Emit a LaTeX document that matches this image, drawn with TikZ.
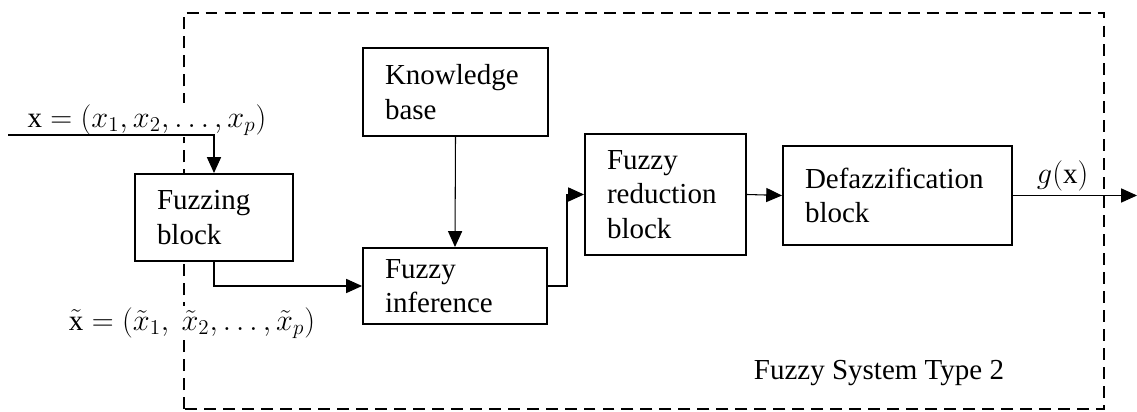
\documentclass[tikz,border=0pt]{standalone}
\usepackage{amsmath}
\usepackage{fontspec}
\setmainfont{Liberation Serif}
\usetikzlibrary{arrows.meta}

\tikzset{
  block/.style={draw, line width=1.1pt, fill=white, align=left, inner xsep=0.44cm, inner ysep=0pt, font=\rmfamily\fontsize{16.5}{19.6}\selectfont},
  lbl/.style={fill=white, inner sep=1pt},
  conn/.style={line width=0.6pt, -{Triangle[length=9pt,width=8pt]}},
  frame/.style={line width=1.3pt, dash pattern=on 6.8pt off 4pt}
}

\begin{document}
\begin{tikzpicture}[font=\rmfamily\fontsize{16.5}{19.6}\selectfont]
\useasboundingbox (0,0) rectangle (22.74,8.24);

% system boundary
\draw [frame] (3.68,0.06) rectangle (22.08,7.98);

\node (F1) at (4.28,3.89) [block, text width=2.28cm, minimum height=1.74cm] {Fuzzing\\block};
\node (K1) at (9.11,6.40) [block, text width=2.82cm, minimum height=1.76cm] {Knowledge\\base};
\node (I1) at (9.10,2.52) [block, text width=2.80cm, minimum height=1.52cm] {Fuzzy\\inference};
\node (R1) at (13.31,4.35) [block, text width=2.34cm, minimum height=2.42cm] {Fuzzy\\reduction\\block};
\node (D1) at (17.95,4.33) [block, text width=3.70cm, minimum height=1.98cm] {Defazzification\\block};

\coordinate (IN) at (0.16,5.54);
\coordinate (OUT) at (22.74,4.33);

\node (L1) at (2.94,5.84) [lbl] {$\mathrm{x} = (x_1, x_2, \ldots, x_p)$};
\node (L2) at (3.84,1.78) [lbl] {$\tilde{\mathrm{x}} = (\tilde{x}_1,\ \tilde{x}_2, \ldots, \tilde{x}_p)$};
\node (L3) at (17.58,0.78) [] {Fuzzy System Type 2};

\draw [conn] (IN) -| (F1.north);
\draw [conn] (F1.south) |- (I1.west);
\draw [conn] (K1.south) -- (I1.north);
\draw [conn] (I1.east) -- ++(0.38,0) |- (R1.west);
\draw [conn] (R1.east) -- (D1.west);
\draw [conn] (D1.east) -- (OUT) node[pos=0.4, above, inner sep=2pt] {$g(\mathrm{x})$};

\end{tikzpicture}
\end{document}
